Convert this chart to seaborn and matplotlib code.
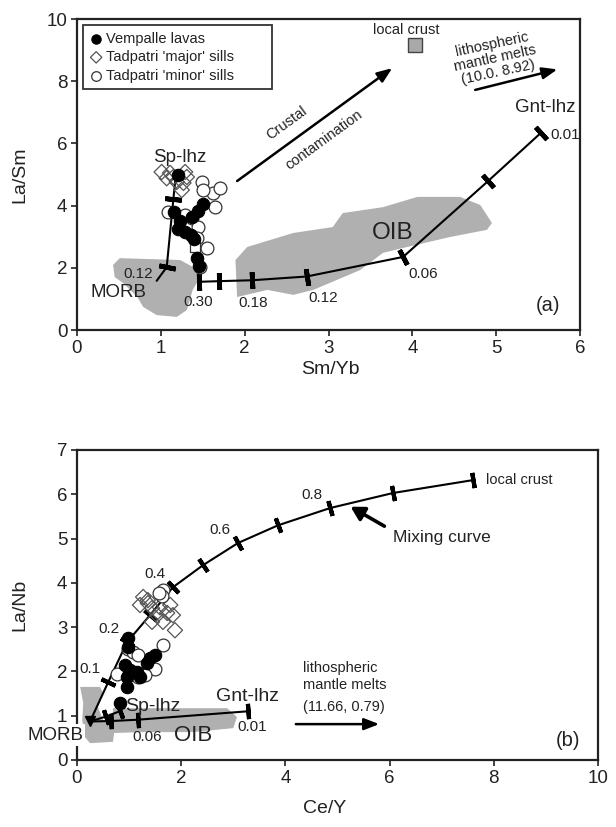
import numpy as np
import matplotlib
matplotlib.use("Agg")
import matplotlib.pyplot as plt
import seaborn as sns

# ---- panel (a): La/Sm vs Sm/Yb ----
vemp_a_x = [1.20, 1.50, 1.44, 1.37, 1.16, 1.23, 1.20, 1.29, 1.36, 1.40, 1.43, 1.45]
vemp_a_y = [4.98, 4.05, 3.82, 3.62, 3.78, 3.52, 3.25, 3.15, 3.05, 2.92, 2.30, 2.05]
major_a_x = [1.01, 1.11, 1.07, 1.15, 1.19, 1.27, 1.29, 1.31, 1.25]
major_a_y = [5.08, 5.05, 4.88, 4.92, 4.76, 4.73, 5.08, 4.92, 4.50]
minor_a_x = [1.49, 1.62, 1.71, 1.50, 1.65, 1.09, 1.29, 1.37, 1.44, 1.43, 1.55, 1.47]
minor_a_y = [4.76, 4.40, 4.58, 4.50, 3.96, 3.80, 3.70, 3.60, 3.31, 2.96, 2.63, 2.03]
odd_a_x = [1.41]
odd_a_y = [2.67]

sp_a_x = [0.95, 1.07, 1.15, 1.18]
sp_a_y = [1.58, 2.02, 4.22, 5.02]
sp_a_ticks = [1, 2]
gnt_a_x = [1.46, 1.69, 2.09, 2.74, 3.89, 4.90, 5.53]
gnt_a_y = [1.55, 1.57, 1.60, 1.72, 2.35, 4.78, 6.33]
gnt_a_ticks = [0, 1, 2, 3, 4, 5, 6]

oib_a_x = [1.91, 2.27, 2.58, 2.82, 3.38, 3.65, 3.94, 4.45, 4.89, 4.95, 4.81, 4.57,
           4.06, 3.65, 3.17, 3.05, 2.58, 2.03, 1.89]
oib_a_y = [1.06, 1.29, 1.13, 1.29, 1.93, 2.48, 2.67, 2.99, 3.22, 3.44, 4.02, 4.28,
           4.28, 3.95, 3.76, 3.31, 3.12, 2.67, 2.25]
morb_a_x = [0.43, 0.51, 1.23, 1.38, 1.47, 1.38, 1.31, 1.19, 0.95, 0.79, 0.72, 0.55, 0.45]
morb_a_y = [2.09, 2.31, 2.25, 2.03, 1.70, 1.29, 0.64, 0.42, 0.48, 0.74, 1.06, 1.51, 1.70]

crust_a = (4.03, 9.16)

# ---- panel (b): La/Nb vs Ce/Y ----
vemp_b_x = [0.98, 0.98, 1.40, 1.50, 1.34, 0.92, 1.02, 1.15, 1.21, 0.96, 0.96, 0.83]
vemp_b_y = [2.75, 2.55, 2.30, 2.36, 2.19, 2.14, 2.03, 1.99, 1.87, 1.87, 1.65, 1.29]
major_b_x = [1.27, 1.36, 1.21, 1.44, 1.59, 1.79, 1.73, 1.54, 1.84, 1.44, 1.65, 1.88, 1.36]
major_b_y = [3.68, 3.54, 3.50, 3.43, 3.45, 3.50, 3.32, 3.27, 3.27, 3.12, 3.12, 2.93, 3.61]
minor_b_x = [1.65, 1.63, 1.58, 1.65, 0.98, 1.07, 1.17, 1.50, 0.77, 1.30, 1.17]
minor_b_y = [3.84, 3.70, 3.76, 2.60, 2.50, 2.44, 2.37, 2.05, 1.94, 1.92, 1.87]

mix_x = [0.25, 0.60, 0.96, 1.40, 1.84, 2.42, 3.09, 3.86, 4.86, 6.07, 7.60]
mix_y = [0.87, 1.76, 2.66, 3.27, 3.90, 4.40, 4.90, 5.30, 5.69, 6.03, 6.32]
mix_ticks = [1, 2, 3, 4, 5, 6, 7, 8, 9, 10]
mix_labels = ["0.1", "0.2", None, "0.4", None, "0.6", None, "0.8", None, None]
sp_b_x = [0.25, 0.55, 0.82]
sp_b_y = [0.87, 0.98, 1.10]
sp_b_ticks = [1, 2]
gnt_b_x = [0.25, 0.66, 1.17, 3.28]
gnt_b_y = [0.87, 0.88, 0.91, 1.10]
gnt_b_ticks = [1, 2, 3]

oib_b_x = [0.69, 1.59, 2.88, 3.07, 3.00, 2.23, 1.27, 0.69]
oib_b_y = [1.17, 1.17, 1.17, 0.97, 0.72, 0.63, 0.63, 0.61]
morb_b_x = [0.06, 0.44, 0.50, 0.40, 0.50, 0.73, 0.69, 0.25, 0.15, 0.10, 0.12]
morb_b_y = [1.65, 1.65, 1.51, 1.20, 0.90, 0.75, 0.41, 0.38, 0.52, 0.90, 1.29]

sns.set_style("ticks")
plt.rcParams["font.family"] = ["Liberation Sans", "DejaVu Sans"]
plt.rcParams["axes.linewidth"] = 1.6
plt.rcParams["axes.edgecolor"] = "#222222"

TXT = "#222222"
GREY = "#b0b0b0"

fig = plt.figure(figsize=(6.16, 8.27), dpi=100)
ax_a = fig.add_axes([77 / 616, 1 - 330 / 827, 503 / 616, 311 / 827])
ax_b = fig.add_axes([77 / 616, 1 - 760 / 827, 521 / 616, 310 / 827])


def draw_curve(ax, xs, ys, ticks, ms=12, mew=3.4):
    sns.lineplot(x=xs, y=ys, ax=ax, sort=False, estimator=None, color="k",
                 lw=1.5, legend=False, zorder=2)
    pts = ax.transData.transform(np.column_stack([xs, ys]))
    for i in ticks:
        j0, j1 = max(i - 1, 0), min(i + 1, len(xs) - 1)
        d = pts[j1] - pts[j0]
        ang = np.degrees(np.arctan2(d[1], d[0]))
        ax.plot(xs[i], ys[i], marker=(2, 2, ang), ms=ms, mew=mew, color="k",
                zorder=2.5)


def draw_points(ax, vx, vy, jx, jy, nx, ny, label=True):
    sns.scatterplot(x=vx, y=vy, ax=ax, marker="o", s=80, color="k",
                    edgecolor="k", linewidth=0.8, zorder=4,
                    label="Vempalle lavas" if label else None)
    sns.scatterplot(x=jx, y=jy, ax=ax, marker="D", s=60, facecolor="none",
                    edgecolor="#555555", linewidth=0.9, zorder=3,
                    label="Tadpatri 'major' sills" if label else None)
    sns.scatterplot(x=nx, y=ny, ax=ax, marker="o", s=85, facecolor="white",
                    edgecolor="#333333", linewidth=0.9, zorder=3.5,
                    label="Tadpatri 'minor' sills" if label else None)


for ax in (ax_a, ax_b):
    ax.tick_params(direction="out", length=4, width=1.2, labelsize=13.5,
                   colors=TXT, pad=3)
    for s in ax.spines.values():
        s.set_visible(True)

# ---------------- panel (a) ----------------
ax = ax_a
ax.set_xlim(0, 6)
ax.set_ylim(0, 10)
ax.set_xticks(range(0, 7))
ax.set_yticks(range(0, 11, 2))
ax.fill(oib_a_x, oib_a_y, color=GREY, lw=0, zorder=0.5)
ax.fill(morb_a_x, morb_a_y, color=GREY, lw=0, zorder=0.5)
draw_curve(ax, sp_a_x, sp_a_y, sp_a_ticks)
draw_curve(ax, gnt_a_x, gnt_a_y, gnt_a_ticks)
draw_points(ax, vemp_a_x, vemp_a_y, major_a_x, major_a_y, minor_a_x, minor_a_y)
sns.scatterplot(x=odd_a_x, y=odd_a_y, ax=ax, marker="s", s=45, facecolor="white",
                edgecolor="#333333", linewidth=0.9, zorder=3.5)
ax.scatter([crust_a[0]], [crust_a[1]], marker="s", s=90, color="#a9a9a9",
           edgecolor="#444444", linewidth=1.0, zorder=3)
ax.text(crust_a[0] - 0.1, 9.65, "local crust", fontsize=10.5, color=TXT,
        ha="center", va="center")

ax.annotate("", xy=(3.76, 8.42), xytext=(1.91, 4.79),
            arrowprops=dict(arrowstyle="-|>,head_length=0.9,head_width=0.35",
                            color="k", lw=1.8, shrinkA=0, shrinkB=0))
ax.text(2.5, 6.65, "Crustal", fontsize=10.5, color=TXT, rotation=36,
        ha="center", va="center")
ax.text(2.95, 6.1, "contamination", fontsize=10.5, color=TXT, rotation=36,
        ha="center", va="center")

ax.annotate("", xy=(5.73, 8.38), xytext=(4.75, 7.72),
            arrowprops=dict(arrowstyle="-|>,head_length=0.9,head_width=0.35",
                            color="k", lw=1.8, shrinkA=0, shrinkB=0))
ax.text(4.99, 8.74, "lithospheric\nmantle melts\n(10.0. 8.92)", fontsize=10.5,
        color=TXT, rotation=12, ha="center", va="center", linespacing=1.05)

ax.text(1.23, 5.56, "Sp-lhz", fontsize=13.5, color=TXT, ha="center", va="center")
ax.text(5.58, 7.17, "Gnt-lhz", fontsize=13.5, color=TXT, ha="center", va="center")
ax.text(0.50, 1.20, "MORB", fontsize=13.5, color=TXT, ha="center", va="center")
ax.text(3.77, 3.12, "OIB", fontsize=17.5, color=TXT, ha="center", va="center")
ax.text(0.73, 1.80, "0.12", fontsize=11, color=TXT, ha="center", va="center")
ax.text(1.45, 0.90, "0.30", fontsize=11, color=TXT, ha="center", va="center")
ax.text(2.10, 0.87, "0.18", fontsize=11, color=TXT, ha="center", va="center")
ax.text(2.94, 1.03, "0.12", fontsize=11, color=TXT, ha="center", va="center")
ax.text(4.13, 1.80, "0.06", fontsize=11, color=TXT, ha="center", va="center")
ax.text(5.82, 6.27, "0.01", fontsize=11, color=TXT, ha="center", va="center")
ax.text(5.62, 0.80, "(a)", fontsize=14.5, color=TXT, ha="center", va="center")

leg = ax.legend(loc="upper left", bbox_to_anchor=(0.012, 0.0, 189 / 503, 0.98),
                mode="expand", borderaxespad=0,
                fontsize=10.5, frameon=True, fancybox=False, markerscale=0.75,
                handletextpad=0.2, handlelength=0.9, labelspacing=0.3,
                borderpad=0.45)
leg.get_frame().set_edgecolor("k")
leg.get_frame().set_linewidth(1.3)
for t in leg.get_texts():
    t.set_color(TXT)

ax.set_xlabel("Sm/Yb", fontsize=14, color=TXT)
ax.set_ylabel("La/Sm", fontsize=14, color=TXT)
ax.xaxis.set_label_coords(0.503, -0.10)
ax.yaxis.set_label_coords(-0.097, 0.5)

# ---------------- panel (b) ----------------
ax = ax_b
ax.set_xlim(0, 10)
ax.set_ylim(0, 7)
ax.set_xticks(range(0, 11, 2))
ax.set_yticks(range(0, 8))
ax.fill(oib_b_x, oib_b_y, color=GREY, lw=0, zorder=0.5)
ax.fill(morb_b_x, morb_b_y, color=GREY, lw=0, zorder=0.5)
draw_curve(ax, mix_x, mix_y, mix_ticks, ms=11, mew=3.0)
draw_curve(ax, sp_b_x, sp_b_y, sp_b_ticks, ms=11, mew=3.0)
draw_curve(ax, gnt_b_x, gnt_b_y, gnt_b_ticks, ms=11, mew=3.0)
ax.plot(mix_x[0], mix_y[0], marker="v", ms=7, color="k", zorder=3)
draw_points(ax, vemp_b_x, vemp_b_y, major_b_x, major_b_y, minor_b_x, minor_b_y,
            label=False)

for i, lab in zip(mix_ticks, mix_labels):
    if lab is None:
        continue
    ax.text(mix_x[i] - 0.35, mix_y[i] + 0.3, lab, fontsize=11, color=TXT,
            ha="center", va="center")
ax.text(mix_x[-1] + 0.25, mix_y[-1], "local crust", fontsize=10.5, color=TXT,
        ha="left", va="center")
ax.annotate("", xy=(5.25, 5.72), xytext=(5.9, 5.28),
            arrowprops=dict(arrowstyle="-|>,head_length=0.8,head_width=0.45",
                            color="k", lw=2.6, shrinkA=0, shrinkB=0))
ax.text(7.0, 5.03, "Mixing curve", fontsize=12.5, color=TXT, ha="center", va="center")

ax.annotate("", xy=(5.8, 0.81), xytext=(4.2, 0.81),
            arrowprops=dict(arrowstyle="-|>,head_length=0.9,head_width=0.35",
                            color="k", lw=1.8, shrinkA=0, shrinkB=0))
ax.text(4.33, 2.08, "lithospheric", fontsize=10.5, color=TXT, ha="left", va="center")
ax.text(4.33, 1.69, "mantle melts", fontsize=10.5, color=TXT, ha="left", va="center")
ax.text(4.33, 1.20, "(11.66, 0.79)", fontsize=10.5, color=TXT, ha="left", va="center")

ax.text(1.46, 1.20, "Sp-lhz", fontsize=14, color=TXT, ha="center", va="center",
        zorder=5)
ax.text(3.28, 1.43, "Gnt-lhz", fontsize=14, color=TXT, ha="center", va="center")
ax.text(1.34, 0.52, "0.06", fontsize=11, color=TXT, ha="center", va="center")
ax.text(3.36, 0.75, "0.01", fontsize=11, color=TXT, ha="center", va="center")
ax.text(2.23, 0.56, "OIB", fontsize=16, color=TXT, ha="center", va="center")
ax.text(-0.42, 0.56, "MORB", fontsize=13.5, color=TXT, ha="center", va="center",
        clip_on=False, zorder=6,
        bbox=dict(boxstyle="square,pad=0.12", fc="white", ec="none"))
ax.text(9.42, 0.45, "(b)", fontsize=14.5, color=TXT, ha="center", va="center")

ax.set_xlabel("Ce/Y", fontsize=14, color=TXT)
ax.set_ylabel("La/Nb", fontsize=14, color=TXT)
ax.xaxis.set_label_coords(0.476, -0.13)
ax.yaxis.set_label_coords(-0.094, 0.5)

fig.savefig("out.png", dpi=100)
